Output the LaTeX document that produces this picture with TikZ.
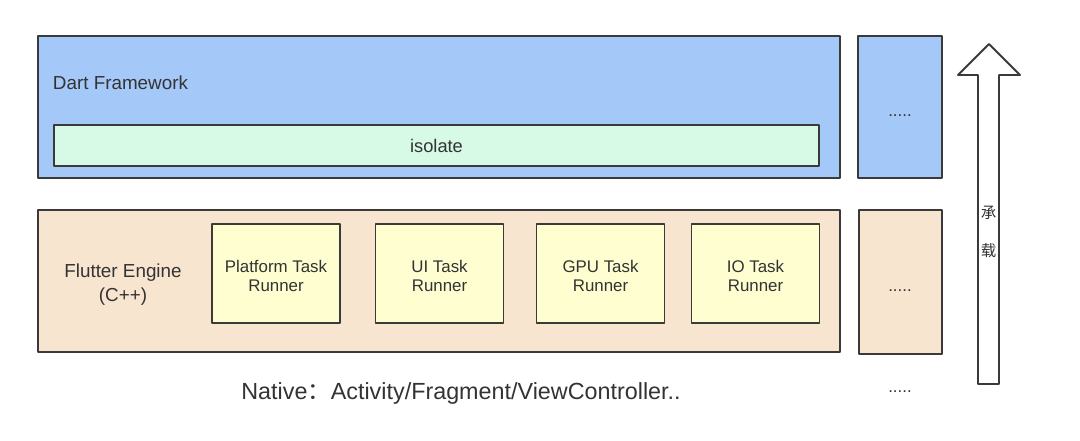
\documentclass[tikz,border=0pt]{standalone}
\usepackage{fontspec}
\setmainfont{Liberation Sans}
\newfontfamily\cjk{Noto Sans CJK SC}
\usetikzlibrary{positioning}
\definecolor{edge}{HTML}{3A3A3A}
\definecolor{txt}{HTML}{333333}
\definecolor{dartblue}{HTML}{A4C8F8}
\definecolor{isomint}{HTML}{D6FAE6}
\definecolor{enginepeach}{HTML}{F8E5CF}
\definecolor{runneryellow}{HTML}{FEFED0}

\begin{document}
\begin{tikzpicture}[x=0.025cm,y=-0.025cm, line join=round, font=\sffamily,
	layer/.style={draw=edge, line width=1.4pt},
	runner/.style={draw=edge, line width=1.4pt, fill=runneryellow, minimum width=128*0.025cm,
		minimum height=99*0.025cm, align=center, text=txt, font=\fontsize{12}{14}\selectfont},
	label/.style={text=txt, font=\fontsize{13.4}{17}\selectfont},
	dots/.style={text=txt, font=\fontsize{12}{12}\selectfont}]
	\useasboundingbox (0,0) rectangle (1080,441);
	% Dart layer
	\draw[layer, fill=dartblue] (38,36) rectangle (840,178);
	\node[label, anchor=west] (dart) at (48,83) {Dart Framework};
	\draw[layer, fill=isomint] (54,125) rectangle (819,166);
	\node[label, font=\fontsize{13}{14}\selectfont] (iso) at (436.5,145.5) {isolate};
	\draw[layer, fill=dartblue] (858,36) rectangle (942,178);
	\node[dots] (dartmore) at (900,116) {.....};
	% Engine layer
	\draw[layer, fill=enginepeach] (38,210) rectangle (840,352);
	\node[label, align=center] (engine) at (123,285) {Flutter Engine\\(C++)};
	\node[runner] (platform) at (276,273.5) {\\[-2pt]Platform Task\\Runner};
	\node[runner] (ui) at (439.5,273.5) {\\[-2pt]UI Task\\Runner};
	\node[runner] (gpu) at (600.5,273.5) {\\[-2pt]GPU Task\\Runner};
	\node[runner] (io) at (755.5,273.5) {\\[-2pt]IO Task\\Runner};
	\draw[layer, fill=enginepeach] (859,210) rectangle (942,354);
	\node[dots] (enginemore) at (900,291) {.....};
	% Native
	\node[text=txt, font=\fontsize{16.6}{18}\selectfont] (native) at (461,393)
		{Native{\cjk ：}Activity/Fragment/ViewController..};
	\node[dots] (nativemore) at (900,392) {.....};
	% carrying arrow
	\draw[layer, fill=white] (978,384) -- (978,75) -- (958,75) -- (989,44) -- (1020,75)
		-- (999,75) -- (999,384) -- cycle;
	\node[text=txt, font=\cjk\fontsize{11}{13}\selectfont, align=center] (carry) at (988.5,232)
		{承\\[14pt]载};
\end{tikzpicture}
\end{document}
